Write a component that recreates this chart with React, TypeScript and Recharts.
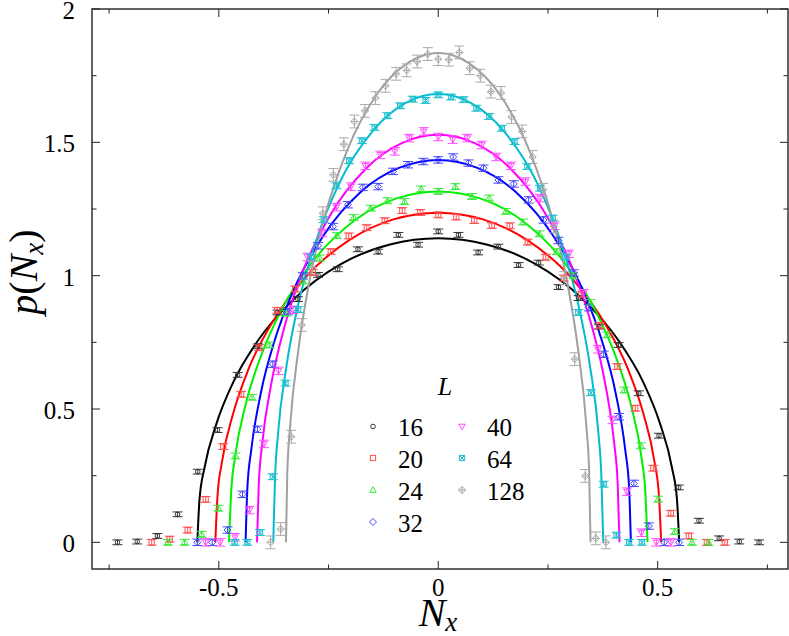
import React from 'react';
import { ComposedChart, Line, Scatter, ErrorBar, XAxis, YAxis } from 'recharts';

const W = 789;
const H = 636;
// plot box edges in px
const PL = 92;
const PR = 788;
const PT = 9;
const PB = 569;

const sizes = ['16', '20', '24', '32', '40', '64', '128'];

// fitted curves
const curveX16 = [-0.549, -0.544, -0.533, -0.505, -0.467, -0.412, -0.329, -0.22, -0.11, 0, 0.11, 0.22, 0.329, 0.412, 0.467, 0.505, 0.533, 0.544, 0.549];
const curveY16 = [0, 0.161, 0.277, 0.447, 0.601, 0.754, 0.912, 1.045, 1.117, 1.14, 1.117, 1.045, 0.912, 0.754, 0.601, 0.447, 0.277, 0.161, 0];
const curveX20 = [-0.508, -0.503, -0.493, -0.467, -0.432, -0.381, -0.305, -0.203, -0.102, 0, 0.102, 0.203, 0.305, 0.381, 0.432, 0.467, 0.493, 0.503, 0.508];
const curveY20 = [0, 0.174, 0.3, 0.485, 0.651, 0.817, 0.989, 1.133, 1.211, 1.236, 1.211, 1.133, 0.989, 0.817, 0.651, 0.485, 0.3, 0.174, 0];
const curveX24 = [-0.477, -0.472, -0.463, -0.439, -0.405, -0.358, -0.286, -0.191, -0.095, 0, 0.095, 0.191, 0.286, 0.358, 0.405, 0.439, 0.463, 0.472, 0.477];
const curveY24 = [0, 0.186, 0.32, 0.516, 0.694, 0.87, 1.053, 1.207, 1.29, 1.316, 1.29, 1.207, 1.053, 0.87, 0.694, 0.516, 0.32, 0.186, 0];
const curveX32 = [-0.439, -0.435, -0.426, -0.404, -0.373, -0.329, -0.263, -0.176, -0.088, 0, 0.088, 0.176, 0.263, 0.329, 0.373, 0.404, 0.426, 0.435, 0.439];
const curveY32 = [0, 0.202, 0.348, 0.562, 0.756, 0.948, 1.147, 1.315, 1.405, 1.434, 1.405, 1.315, 1.147, 0.948, 0.756, 0.562, 0.348, 0.202, 0];
const curveX40 = [-0.413, -0.409, -0.401, -0.38, -0.351, -0.31, -0.248, -0.165, -0.083, 0, 0.083, 0.165, 0.248, 0.31, 0.351, 0.38, 0.401, 0.409, 0.413];
const curveY40 = [0, 0.216, 0.371, 0.599, 0.805, 1.01, 1.222, 1.401, 1.497, 1.528, 1.497, 1.401, 1.222, 1.01, 0.805, 0.599, 0.371, 0.216, 0];
const curveX64 = [-0.376, -0.372, -0.365, -0.346, -0.32, -0.282, -0.226, -0.15, -0.075, 0, 0.075, 0.15, 0.226, 0.282, 0.32, 0.346, 0.365, 0.372, 0.376];
const curveY64 = [0, 0.237, 0.409, 0.659, 0.886, 1.112, 1.345, 1.541, 1.647, 1.681, 1.647, 1.541, 1.345, 1.112, 0.886, 0.659, 0.409, 0.237, 0];
const curveX128 = [-0.347, -0.344, -0.337, -0.319, -0.295, -0.26, -0.208, -0.139, -0.069, 0, 0.069, 0.139, 0.208, 0.26, 0.295, 0.319, 0.337, 0.344, 0.347];
const curveY128 = [0, 0.259, 0.446, 0.719, 0.967, 1.214, 1.468, 1.682, 1.798, 1.835, 1.798, 1.682, 1.468, 1.214, 0.967, 0.719, 0.446, 0.259, 0];

// simulation points
const ptX16 = [-0.731, -0.686, -0.64, -0.594, -0.548, -0.503, -0.457, -0.411, -0.366, -0.32, -0.274, -0.229, -0.183, -0.137, -0.091, -0.046, 0, 0.046, 0.091, 0.137, 0.183, 0.229, 0.274, 0.32, 0.366, 0.411, 0.457, 0.503, 0.548, 0.594, 0.64, 0.686, 0.731];
const ptY16 = [0, 0.003, 0.024, 0.105, 0.265, 0.421, 0.628, 0.735, 0.862, 0.912, 1.003, 1.024, 1.099, 1.09, 1.153, 1.116, 1.166, 1.153, 1.087, 1.109, 1.04, 1.049, 0.957, 0.916, 0.809, 0.74, 0.559, 0.4, 0.206, 0.081, 0.015, 0.003, 0];
const ptX20 = [-0.653, -0.612, -0.571, -0.53, -0.49, -0.449, -0.408, -0.367, -0.326, -0.286, -0.245, -0.204, -0.163, -0.122, -0.082, -0.041, 0, 0.041, 0.082, 0.122, 0.163, 0.204, 0.245, 0.286, 0.326, 0.367, 0.408, 0.449, 0.49, 0.53, 0.571, 0.612, 0.653];
const ptY20 = [0, 0.012, 0.046, 0.161, 0.359, 0.555, 0.73, 0.87, 0.95, 1.012, 1.09, 1.149, 1.18, 1.206, 1.244, 1.237, 1.228, 1.22, 1.207, 1.188, 1.187, 1.126, 1.069, 0.991, 0.93, 0.813, 0.659, 0.503, 0.278, 0.109, 0.024, 0, 0];
const ptX24 = [-0.616, -0.578, -0.539, -0.501, -0.462, -0.424, -0.385, -0.347, -0.308, -0.27, -0.231, -0.193, -0.154, -0.116, -0.077, -0.039, 0, 0.039, 0.077, 0.116, 0.154, 0.193, 0.231, 0.27, 0.308, 0.347, 0.385, 0.424, 0.462, 0.501, 0.539, 0.578, 0.616];
const ptY24 = [0, 0, 0.03, 0.128, 0.324, 0.544, 0.74, 0.859, 0.98, 1.066, 1.15, 1.218, 1.253, 1.281, 1.278, 1.325, 1.316, 1.334, 1.297, 1.291, 1.241, 1.201, 1.157, 1.09, 1.0, 0.899, 0.778, 0.571, 0.362, 0.162, 0.04, 0, 0];
const ptX32 = [-0.549, -0.515, -0.48, -0.446, -0.412, -0.377, -0.343, -0.309, -0.274, -0.24, -0.206, -0.172, -0.137, -0.103, -0.069, -0.034, 0, 0.034, 0.069, 0.103, 0.137, 0.172, 0.206, 0.24, 0.274, 0.309, 0.343, 0.377, 0.412, 0.446, 0.48, 0.515, 0.549];
const ptY32 = [0, 0, 0.046, 0.18, 0.424, 0.668, 0.865, 0.999, 1.112, 1.184, 1.266, 1.331, 1.334, 1.391, 1.416, 1.428, 1.434, 1.445, 1.422, 1.403, 1.359, 1.344, 1.284, 1.209, 1.132, 1.01, 0.88, 0.705, 0.471, 0.221, 0.061, 0, 0];
const ptX40 = [-0.53, -0.497, -0.463, -0.43, -0.397, -0.364, -0.331, -0.298, -0.265, -0.232, -0.199, -0.166, -0.132, -0.099, -0.066, -0.033, 0, 0.033, 0.066, 0.099, 0.132, 0.166, 0.199, 0.232, 0.265, 0.298, 0.331, 0.364, 0.397, 0.43, 0.463, 0.497, 0.53];
const ptY40 = [0, 0, 0.019, 0.121, 0.369, 0.643, 0.872, 1.07, 1.16, 1.257, 1.334, 1.412, 1.453, 1.466, 1.516, 1.541, 1.52, 1.51, 1.516, 1.49, 1.445, 1.412, 1.353, 1.291, 1.187, 1.082, 0.934, 0.724, 0.459, 0.19, 0.036, 0, 0];
const ptX64 = [-0.464, -0.435, -0.406, -0.377, -0.348, -0.319, -0.29, -0.261, -0.232, -0.203, -0.174, -0.145, -0.116, -0.087, -0.058, -0.029, 0, 0.029, 0.058, 0.087, 0.116, 0.145, 0.174, 0.203, 0.232, 0.261, 0.29, 0.319, 0.348, 0.377, 0.406, 0.435, 0.464];
const ptY64 = [0, 0, 0.037, 0.246, 0.597, 0.873, 1.07, 1.21, 1.337, 1.431, 1.506, 1.556, 1.6, 1.637, 1.662, 1.657, 1.678, 1.67, 1.66, 1.628, 1.597, 1.553, 1.503, 1.409, 1.328, 1.216, 1.07, 0.862, 0.561, 0.218, 0.027, 0, 0];
const ptX128 = [-0.382, -0.359, -0.335, -0.311, -0.287, -0.263, -0.239, -0.215, -0.191, -0.167, -0.143, -0.12, -0.096, -0.072, -0.048, -0.024, 0, 0.024, 0.048, 0.072, 0.096, 0.12, 0.143, 0.167, 0.191, 0.215, 0.239, 0.263, 0.287, 0.311, 0.335, 0.359, 0.382];
const ptY128 = [0, 0.05, 0.396, 0.815, 1.03, 1.234, 1.378, 1.493, 1.578, 1.618, 1.666, 1.712, 1.757, 1.77, 1.803, 1.831, 1.812, 1.81, 1.837, 1.778, 1.75, 1.69, 1.685, 1.595, 1.541, 1.445, 1.322, 1.184, 0.991, 0.687, 0.249, 0.015, 0];

// typical error bar half-height per L
const pointErr = [0.009, 0.011, 0.011, 0.012, 0.014, 0.011, 0.024];

const xTicks = [-0.75, -0.5, -0.25, 0, 0.25, 0.5, 0.75];
const xTickLabels = ['', '-0.5', '', '0', '', '0.5', ''];
const yTicks = [0, 0.25, 0.5, 0.75, 1, 1.25, 1.5, 1.75, 2];
const yTickLabels = ['0', '', '0.5', '', '1', '', '1.5', '', '2'];

const curvesX = [curveX16, curveX20, curveX24, curveX32, curveX40, curveX64, curveX128];
const curvesY = [curveY16, curveY20, curveY24, curveY32, curveY40, curveY64, curveY128];
const pointsX = [ptX16, ptX20, ptX24, ptX32, ptX40, ptX64, ptX128];
const pointsY = [ptY16, ptY20, ptY24, ptY32, ptY40, ptY64, ptY128];

const styles = [
  { line: '#000000', mark: '#333333', kind: 'circle' },
  { line: '#ff0000', mark: '#ff4f4f', kind: 'square' },
  { line: '#00f000', mark: '#3ae83a', kind: 'up' },
  { line: '#0000ff', mark: '#4646ff', kind: 'diamond' },
  { line: '#ff00ff', mark: '#ff4aff', kind: 'down' },
  { line: '#00bcd0', mark: '#20c0d0', kind: 'sqx' },
  { line: '#a0a0a0', mark: '#aaaaaa', kind: 'dplus' },
];

const serif = { fontFamily: 'Liberation Serif' };

const curves = curvesX.map((xs, i) => xs.map((x, j) => ({ x, y: curvesY[i][j] })));
const points = pointsX.map((xs, i) => xs.map((x, j) => ({ x, y: pointsY[i][j], err: pointErr[i] })));

function Marker({ kind, cx, cy, color }: { kind: string; cx: number; cy: number; color: string }) {
  const st = { fill: 'none', stroke: color, strokeWidth: 1 };
  switch (kind) {
    case 'circle':
      return <circle cx={cx} cy={cy} r={2.3} {...st} />;
    case 'square':
      return <rect x={cx - 2.6} y={cy - 2.6} width={5.2} height={5.2} {...st} />;
    case 'up':
      return <polygon points={`${cx},${cy - 3.3} ${cx - 3.2},${cy + 2.3} ${cx + 3.2},${cy + 2.3}`} {...st} />;
    case 'down':
      return <polygon points={`${cx},${cy + 3.3} ${cx - 3.2},${cy - 2.3} ${cx + 3.2},${cy - 2.3}`} {...st} />;
    case 'diamond':
      return <polygon points={`${cx},${cy - 3.5} ${cx + 3.5},${cy} ${cx},${cy + 3.5} ${cx - 3.5},${cy}`} {...st} />;
    case 'sqx':
      return (
        <g {...st}>
          <rect x={cx - 2.6} y={cy - 2.6} width={5.2} height={5.2} />
          <path d={`M${cx - 2.6},${cy - 2.6}L${cx + 2.6},${cy + 2.6}M${cx + 2.6},${cy - 2.6}L${cx - 2.6},${cy + 2.6}`} />
        </g>
      );
    default:
      return (
        <g {...st}>
          <polygon points={`${cx},${cy - 3.6} ${cx + 3.6},${cy} ${cx},${cy + 3.6} ${cx - 3.6},${cy}`} />
          <path d={`M${cx},${cy - 3.6}V${cy + 3.6}M${cx - 3.6},${cy}H${cx + 3.6}`} />
        </g>
      );
  }
}

const XTick = (props: any) => {
  const { x, payload } = props;
  const i = xTicks.indexOf(payload.value);
  const label = xTickLabels[i];
  const len = label ? 8 : 4.5;
  return (
    <g>
      <line x1={x} x2={x} y1={PB} y2={PB - len} stroke="#222" strokeWidth={1} />
      <line x1={x} x2={x} y1={PT} y2={PT + len} stroke="#222" strokeWidth={1} />
      {label && (
        <text x={x} y={596} textAnchor="middle" fontSize={25} fill="#000" style={serif}>
          {label}
        </text>
      )}
    </g>
  );
};

const YTick = (props: any) => {
  const { y, payload } = props;
  const i = yTicks.indexOf(payload.value);
  const label = yTickLabels[i];
  const len = label ? 8 : 4.5;
  return (
    <g>
      <line x1={PL} x2={PL + len} y1={y} y2={y} stroke="#222" strokeWidth={1} />
      <line x1={PR} x2={PR - len} y1={y} y2={y} stroke="#222" strokeWidth={1} />
      {label && (
        <text x={75} y={y + 10} textAnchor="end" fontSize={25} fill="#000" style={serif}>
          {label}
        </text>
      )}
    </g>
  );
};

// legend layout: two columns
const legendPos = [
  [373, 426.5], [373, 458], [373, 490], [373, 522],
  [462, 426.5], [462, 458], [462, 490],
];

export default function App() {
  return (
    <div style={{ position: 'absolute', left: 0, top: 0, width: W, height: H, background: '#fff' }}>
      <ComposedChart width={W} height={H} margin={{ top: PT, right: W - PR, bottom: 0, left: 0 }}>
        <XAxis
          dataKey="x"
          type="number"
          domain={[-0.789, 0.797]}
          allowDataOverflow
          ticks={xTicks}
          interval={0}
          height={H - PB}
          axisLine={false}
          tickLine={false}
          tick={<XTick />}
        />
        <YAxis
          type="number"
          domain={[-0.1, 2]}
          allowDataOverflow
          ticks={yTicks}
          interval={0}
          width={PL}
          axisLine={false}
          tickLine={false}
          tick={<YTick />}
        />
        {curves.map((c, i) => (
          <Line
            key={`c${i}`}
            data={c}
            dataKey="y"
            type="monotone"
            stroke={styles[i].line}
            strokeWidth={2}
            dot={false}
            activeDot={false}
            isAnimationActive={false}
          />
        ))}
        {points.map((p, i) => (
          <Scatter
            key={`p${i}`}
            data={p}
            dataKey="y"
            isAnimationActive={false}
            shape={(s: any) => <Marker kind={styles[i].kind} cx={s.cx} cy={s.cy} color={styles[i].mark} />}
          >
            <ErrorBar dataKey="err" direction="y" width={5} stroke={styles[i].mark} strokeWidth={1} isAnimationActive={false} />
          </Scatter>
        ))}
      </ComposedChart>
      <svg width={W} height={H} style={{ position: 'absolute', left: 0, top: 0, pointerEvents: 'none' }}>
        <rect x={PL} y={PT} width={PR - PL} height={PB - PT} fill="none" stroke="#222" strokeWidth={1.4} />
        <text x={438} y={626} textAnchor="middle" fontSize={40} fill="#000" style={serif}>
          <tspan fontStyle="italic">N</tspan>
          <tspan fontStyle="italic" fontSize={27} dy={5}>x</tspan>
        </text>
        <text transform="translate(37,272) rotate(-90)" textAnchor="middle" fontSize={40} fill="#000" style={serif}>
          <tspan fontStyle="italic">p</tspan>
          <tspan>(</tspan>
          <tspan fontStyle="italic">N</tspan>
          <tspan fontStyle="italic" fontSize={27} dy={6}>x</tspan>
          <tspan dy={-6}>)</tspan>
        </text>
        <text x={445} y={395} textAnchor="middle" fontSize={26} fontStyle="italic" fill="#000" style={serif}>
          L
        </text>
        {sizes.map((s, i) => (
          <g key={s}>
            <Marker kind={styles[i].kind} cx={legendPos[i][0]} cy={legendPos[i][1]} color={styles[i].mark} />
            <text x={legendPos[i][0] + 25} y={legendPos[i][1] + 9.5} fontSize={25} fill="#000" style={serif}>
              {s}
            </text>
          </g>
        ))}
      </svg>
    </div>
  );
}
